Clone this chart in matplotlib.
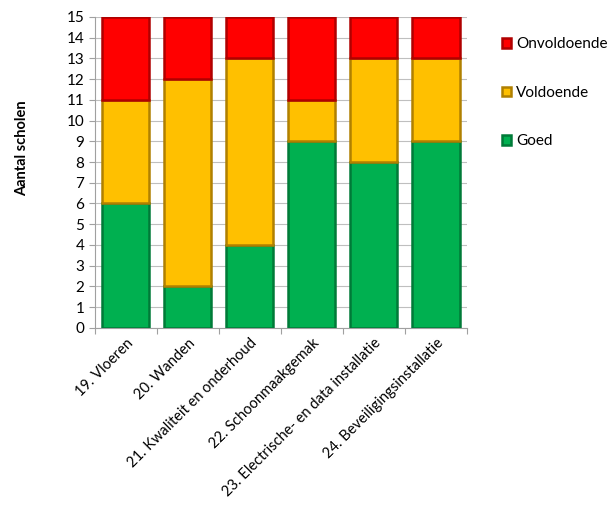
import matplotlib
matplotlib.use("Agg")
import matplotlib.pyplot as plt
import numpy as np

plt.rcParams['font.family'] = ['Lato', 'DejaVu Sans']

categories = ['19. Vloeren', '20. Wanden', '21. Kwaliteit en onderhoud',
              '22. Schoonmaakgemak', '23. Electrische- en data installatie',
              '24. Beveiligingsinstallatie']
goed = [6, 2, 4, 9, 8, 9]
voldoende = [5, 10, 9, 2, 5, 4]
onvoldoende = [4, 3, 2, 4, 2, 2]

series = [('Goed', goed, '#00B050', '#007A38'),
          ('Voldoende', voldoende, '#FFC000', '#B08000'),
          ('Onvoldoende', onvoldoende, '#FF0000', '#B00000')]

fig = plt.figure(figsize=(6.08, 5.13), dpi=100)
ax = fig.add_axes([0.156, 0.361, 0.612, 0.606])

x = np.arange(len(categories))
bottom = np.zeros(len(categories))
handles = {}
for name, vals, color, edge in series:
    bars = ax.bar(x, vals, width=0.76, bottom=bottom, color=color,
                  edgecolor=edge, linewidth=1.8, zorder=3, label=name)
    handles[name] = bars
    bottom += np.array(vals)

ax.set_xlim(-0.5, len(categories) - 0.5)
ax.set_ylim(0, 15)
ax.set_yticks(range(0, 16))
ax.yaxis.grid(True, color='#BFBFBF', linewidth=0.8, zorder=0)
ax.set_axisbelow(True)

for s in ['top', 'right']:
    ax.spines[s].set_visible(False)
ax.spines['left'].set_color('#A0A0A0')
ax.spines['bottom'].set_color('#A0A0A0')

# category boundaries get the tick marks, the names sit under the bar centres
ax.set_xticks(np.arange(-0.5, len(categories), 1), minor=False)
ax.set_xticklabels([])
ax.set_xticks(x, minor=True)
ax.set_xticklabels(categories, minor=True, rotation=45, ha='right',
                   rotation_mode='anchor', fontsize=10.5)
ax.tick_params(axis='x', which='minor', length=0, pad=6)
ax.tick_params(axis='x', which='major', length=4, color='#A0A0A0')
ax.tick_params(axis='y', labelsize=11, length=4, color='#A0A0A0')

fig.text(0.036, 0.711, 'Aantal scholen', rotation=90, fontsize=10.5,
         fontweight='bold', ha='center', va='center')

order = ['Onvoldoende', 'Voldoende', 'Goed']
fig.legend([handles[n] for n in order], order, loc='upper left',
           bbox_to_anchor=(0.826, 0.927), frameon=False, fontsize=11,
           handlelength=0.6, handleheight=0.6, handletextpad=0.3,
           labelspacing=2.25, borderaxespad=0, borderpad=0)

fig.savefig('out.png', dpi=100)
